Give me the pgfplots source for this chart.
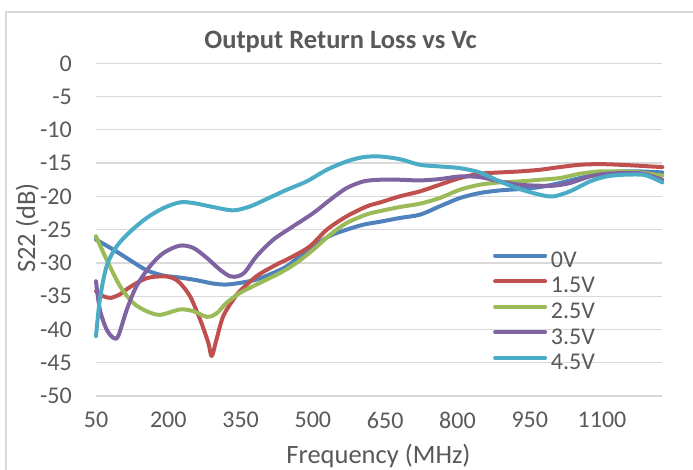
\documentclass[border=0pt]{standalone}
\usepackage{fontspec}
\setmainfont{Carlito}
\usepackage{pgfplots}
\pgfplotsset{compat=1.18}
\definecolor{txt}{HTML}{595959}
\definecolor{grd}{HTML}{D9D9D9}
\definecolor{c0}{HTML}{4F81BD}
\definecolor{c1}{HTML}{C0504D}
\definecolor{c2}{HTML}{9BBB59}
\definecolor{c3}{HTML}{8064A2}
\definecolor{c4}{HTML}{4BACC6}
\begin{document}
\begin{tikzpicture}[x=1pt,y=1pt]
\useasboundingbox (0,0) rectangle (693,469);
\draw[grd, line width=1.5pt] (6,-5) -- (6,457) -- (700,457);
\begin{axis}[
  at={(96pt,73pt)}, anchor=south west,
  scale only axis, width=566.3pt, height=332.7pt,
  xmin=50, xmax=1225, ymin=-50, ymax=0,
  xtick={50,200,350,500,650,800,950,1100},
  xticklabels={50,200,350,500,650,800,950,1100},
  ytick={-50,-45,-40,-35,-30,-25,-20,-15,-10,-5,0},
  yticklabels={-50,-45,-40,-35,-30,-25,-20,-15,-10,-5,0},
  axis line style={draw=none}, tick style={draw=none}, major tick length=0pt,
  ymajorgrids, grid style={grd, line width=1.3pt},
  ticklabel style={font=\fontsize{24}{28}\selectfont, text=txt},
  yticklabel style={inner sep=0pt, xshift=-24pt, anchor=east},
  xticklabel style={inner sep=0pt, yshift=-16pt, anchor=north},
  clip=false,
  every axis plot/.append style={line width=4pt, line cap=round, line join=round, smooth, mark=none},
  legend cell align=left,
  legend style={at={(0.7012,0.4379)}, anchor=north west, draw=none, fill=none,
    inner sep=0pt, outer sep=0pt, row sep=0pt, column sep=3.9pt,
    font=\fontsize{24}{28}\selectfont, text=txt,
    nodes={inner sep=0pt, outer sep=0pt, text height=17pt, text depth=8.6pt}},
  legend image code/.code={\draw[#1, line width=4pt, line cap=round] (0pt,7.5pt) -- (50pt,7.5pt);},
]
\addplot[c0] coordinates {
(50,-26.5) (86,-28) (121,-29.6) (155,-31.1) (190,-31.9) (224,-32.2) (259,-32.6)
(293,-33.1) (320,-33.25) (349,-33) (383,-32.5) (418,-31.5) (446,-30.5) (473,-29)
(501,-27.5) (536,-25.9) (570,-25) (605,-24.25) (640,-23.8) (680,-23.25) (722,-22.75)
(763,-21.5) (805,-20.25) (846,-19.5) (888,-19.1) (929,-18.9) (971,-18.6) (1012,-18)
(1054,-17.25) (1095,-16.6) (1137,-16.25) (1178,-16.25) (1225,-16.4)};
\addplot[c1] coordinates {
(50,-34.25) (65,-35) (81,-35.25) (100,-34.7) (121,-33.6) (155,-32.3) (190,-32)
(210,-32.3) (224,-33) (245,-35) (266,-38.5) (283,-42) (290,-44) (300,-41.5)
(314,-38) (335,-35.5) (349,-34.2) (383,-32) (418,-30.5) (459,-29) (494,-27.5)
(529,-25) (570,-23) (612,-21.5) (640,-20.9) (680,-20) (722,-19.25) (763,-18.25)
(805,-17.25) (846,-16.6) (888,-16.4) (929,-16.25) (971,-16) (1012,-15.6)
(1054,-15.25) (1095,-15.15) (1137,-15.25) (1178,-15.4) (1225,-15.6)};
\addplot[c2] coordinates {
(50,-26) (72,-29.5) (100,-33.5) (127,-36) (155,-37.25) (183,-37.8) (224,-37)
(252,-37.25) (280,-38.1) (300,-37.6) (321,-36) (349,-34.5) (390,-33) (432,-31.5)
(466,-30) (501,-28) (536,-25.75) (570,-24) (612,-22.7) (640,-22.2) (680,-21.6)
(722,-21.1) (763,-20.25) (805,-19) (846,-18.25) (888,-17.9) (929,-17.75)
(971,-17.5) (1012,-17.25) (1054,-16.6) (1095,-16.25) (1137,-16.25) (1178,-16.4)
(1225,-16.9)};
\addplot[c3] coordinates {
(50,-32.75) (58,-37) (72,-40) (86,-41.25) (96,-41) (114,-37) (134,-33.5)
(162,-30.5) (190,-28.5) (224,-27.4) (252,-27.75) (280,-29.25) (307,-31) (328,-32)
(345,-32) (360,-31.3) (383,-29) (418,-26.5) (459,-24.5) (501,-22.5) (536,-20.5)
(570,-18.75) (605,-17.75) (639,-17.5) (680,-17.5) (722,-17.6) (763,-17.4)
(805,-17) (846,-17.1) (888,-17.75) (929,-18.25) (971,-18.4) (999,-18.4)
(1033,-18) (1075,-17) (1109,-16.6) (1151,-16.5) (1185,-16.6) (1225,-17.5)};
\addplot[c4] coordinates {
(50,-41) (58,-35.5) (72,-30.5) (93,-27.5) (121,-25.3) (155,-23.25) (190,-21.75)
(224,-20.9) (252,-21) (293,-21.6) (335,-22.1) (370,-21.5) (404,-20.4) (446,-19)
(487,-17.75) (529,-16) (570,-14.75) (605,-14.1) (639,-14) (680,-14.4)
(722,-15.25) (763,-15.5) (805,-15.75) (846,-16.4) (888,-17.75) (929,-18.9)
(971,-19.75) (999,-20) (1033,-19.25) (1075,-17.75) (1109,-17) (1144,-16.75)
(1185,-16.75) (1206,-17.25) (1225,-17.9)};
\legend{0V,1.5V,2.5V,3.5V,4.5V}
\end{axis}
\node[anchor=base, font=\bfseries\fontsize{26.5}{30}\selectfont, text=txt] at (340.5,420.7) {Output Return Loss vs Vc};
\node[anchor=base, font=\fontsize{26.5}{30}\selectfont, text=txt] at (378.5,5.7) {Frequency (MHz)};
\node[anchor=base, rotate=90, font=\fontsize{26.5}{30}\selectfont, text=txt] at (35,241) {S22 (dB)};
\end{tikzpicture}
\end{document}
